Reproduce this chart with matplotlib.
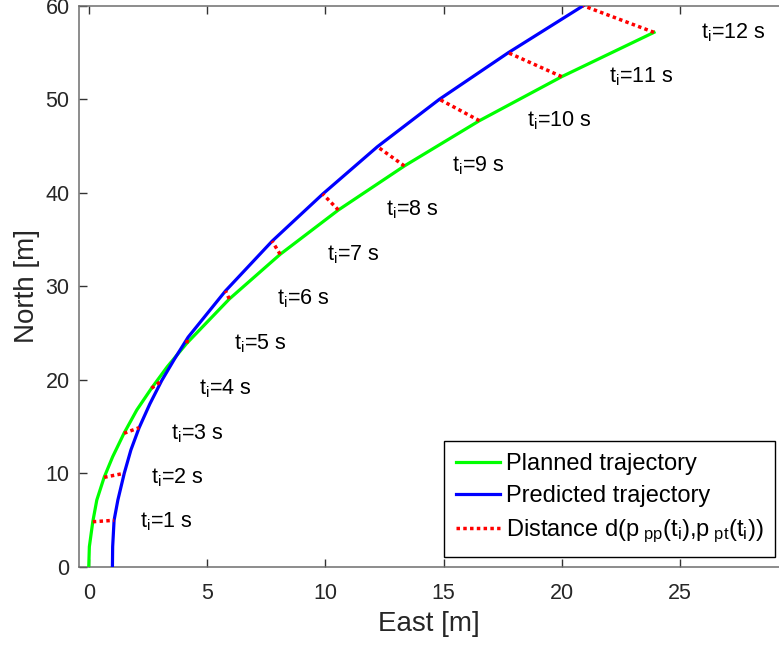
import matplotlib
matplotlib.use("Agg")
import matplotlib.pyplot as plt

plt.rcParams['font.family'] = ['Liberation Sans', 'DejaVu Sans']
plt.rcParams['mathtext.fontset'] = 'custom'
plt.rcParams['mathtext.rm'] = 'Liberation Sans'
plt.rcParams['mathtext.it'] = 'Liberation Sans:italic'

# Sample times t_i [s]
t_i = [1, 2, 3, 4, 5, 6, 7, 8, 9, 10, 11, 12]

# Planned trajectory at t = 0..12 s (East, North) [m]
planned_east = [0.0, 0.17, 0.65, 1.49, 2.65, 4.14, 5.94, 8.09, 10.55, 13.34, 16.51, 19.99, 23.89]
planned_north = [0.0, 4.81, 9.56, 14.27, 19.08, 23.89, 28.63, 33.41, 38.15, 42.86, 47.70, 52.41, 57.15]

# Predicted trajectory at t = 0..12 s (East, North) [m]
predicted_east = [1.0, 1.07, 1.50, 2.13, 3.08, 4.20, 5.78, 7.75, 9.89, 12.20, 14.82, 17.73, 20.90]
predicted_north = [0.0, 4.96, 9.99, 14.87, 19.89, 24.55, 29.50, 34.82, 39.86, 44.92, 49.99, 54.97, 60.0]

# Extra path samples between t = 0 and t = 5 s, where the paths bend most
planned_mid_east = [0.025, 0.34, 1.01, 2.03, 3.32]
planned_mid_north = [2.14, 7.13, 11.76, 16.76, 21.39]
predicted_mid_east = [1.01, 1.23, 1.78, 2.58, 3.62]
predicted_mid_north = [2.14, 7.13, 12.48, 17.40, 22.20]


def merged(east, north, mid_east, mid_north):
    """Full path: the t_i samples with the extra samples placed between them."""
    pts = list(zip(east, north)) + list(zip(mid_east, mid_north))
    pts.sort(key=lambda p: p[1])
    return [p[0] for p in pts], [p[1] for p in pts]


W, H = 779, 647
fig = plt.figure(figsize=(W / 100, H / 100), dpi=100)
left_px, right_px, top_px, bottom_px = 79.3, 779, 5.7, 566.7
ax = fig.add_axes([left_px / W, 1 - bottom_px / H,
                   (right_px - left_px) / W, (bottom_px - top_px) / H])

pe, pn = merged(planned_east, planned_north, planned_mid_east, planned_mid_north)
qe, qn = merged(predicted_east, predicted_north, predicted_mid_east, predicted_mid_north)
ax.plot(pe, pn, color=(0, 1, 0), lw=2.3, label='Planned trajectory',
        solid_joinstyle='round', zorder=3)
ax.plot(qe, qn, color=(0, 0, 1), lw=2.3, label='Predicted trajectory',
        solid_joinstyle='round', zorder=3)

# Distance segments between the two trajectories at each t_i
dist_label = (r'Distance d(p$_{\mathrm{\ pp}}$(t$_{\mathrm{i}}$),'
              r'p$_{\mathrm{\ pt}}$(t$_{\mathrm{i}}$))')
for k, t in enumerate(t_i):
    i = k + 1
    ax.plot([planned_east[i], predicted_east[i]],
            [planned_north[i], predicted_north[i]],
            color=(1, 0, 0), lw=2.5, linestyle=(0, (1.0, 0.95)), zorder=4,
            label=dist_label if k == 0 else None)
    ax.text(planned_east[i] + 2.0, planned_north[i], r't$_{\mathrm{i}}$=%d s' % t,
            fontsize=15.5, ha='left', va='center', color='black')

x_per_px = 5 / 118.3
ax.set_xlim(-0.4, -0.4 + (right_px - left_px) * x_per_px)
ax.set_ylim(0, 60)
ax.set_xticks([0, 5, 10, 15, 20, 25])
ax.set_yticks([0, 10, 20, 30, 40, 50, 60])

for s in ['left', 'top', 'bottom']:
    ax.spines[s].set_color('#6e6e6e')
    ax.spines[s].set_linewidth(1.1)
ax.spines['right'].set_visible(False)

ax.tick_params(direction='in', length=6, width=1.0, color='#333333',
               labelcolor='#262626', labelsize=15.5, top=True, right=False)
ax.tick_params(axis='x', pad=12)
ax.tick_params(axis='y', pad=7)

ax.set_xlabel('East [m]', fontsize=20, color='#262626', labelpad=5)
ax.set_ylabel('North [m]', fontsize=20, color='#262626', labelpad=4)

leg = ax.legend(loc='upper left', bbox_to_anchor=(444.3 / W, 1 - 441 / H),
                bbox_transform=fig.transFigure, fontsize=17, frameon=True,
                fancybox=False, borderpad=0.5, handlelength=1.85,
                handletextpad=0.25, labelspacing=0.45, borderaxespad=0)
leg.get_frame().set_edgecolor('black')
leg.get_frame().set_linewidth(1.0)
leg.get_frame().set_alpha(1)

fig.savefig('out.png', dpi=100)
